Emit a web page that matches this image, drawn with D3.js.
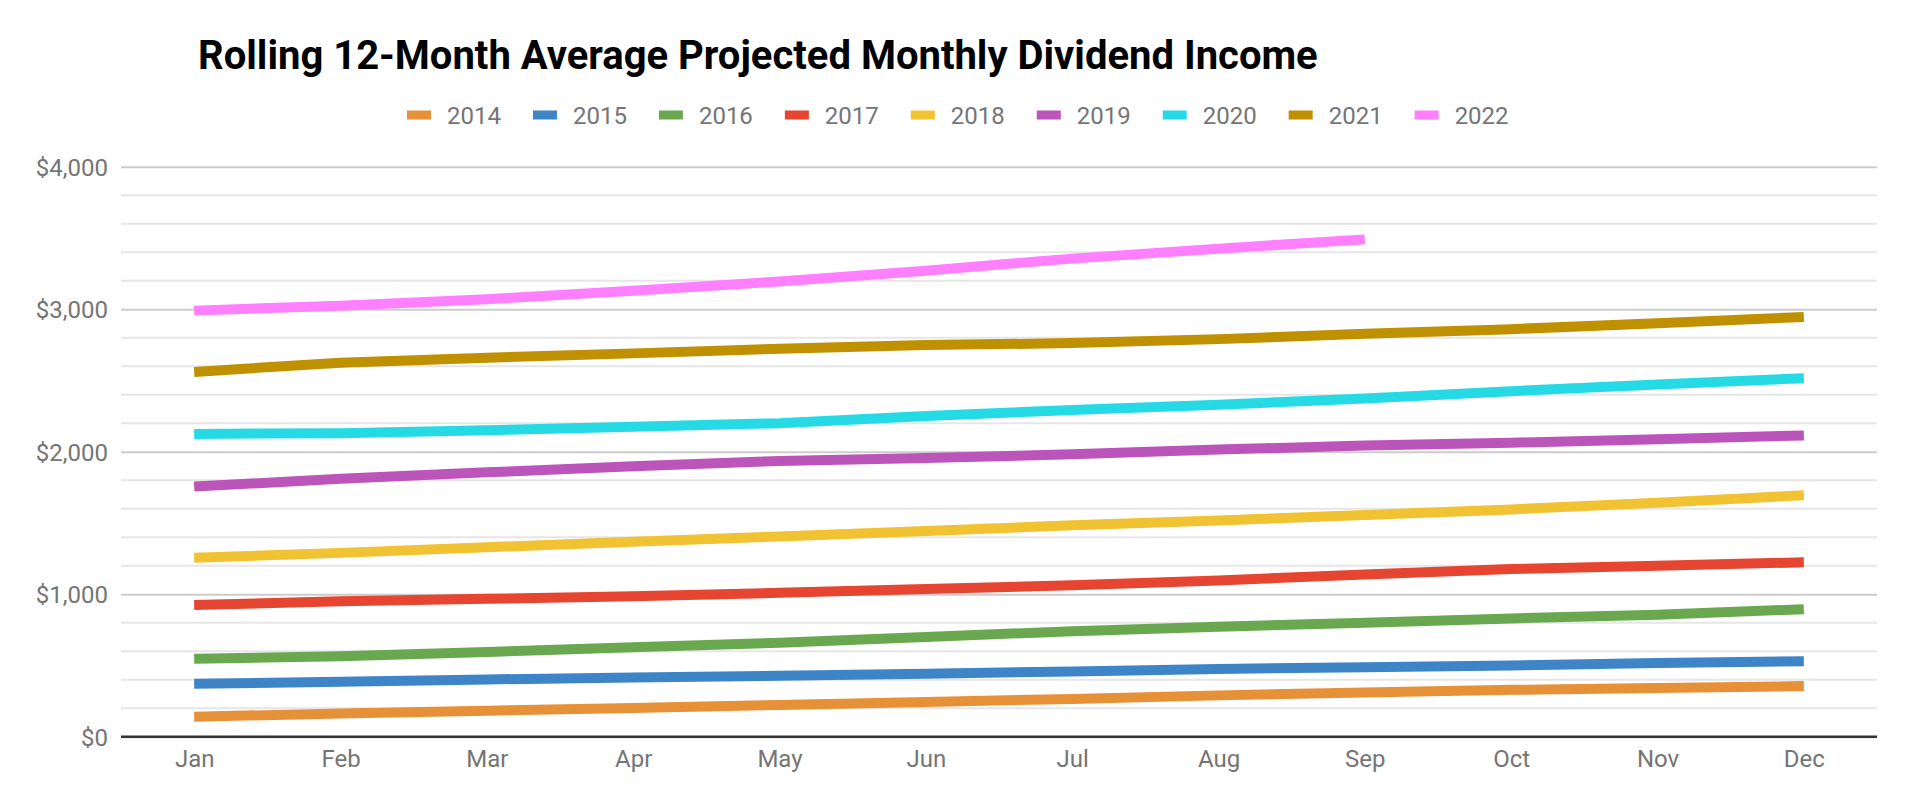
<!DOCTYPE html>
<html>
<head>
<meta charset="utf-8">
<script src="https://cdn.jsdelivr.net/npm/d3@7/dist/d3.min.js"></script>
<style>
  html, body { margin: 0; padding: 0; background: #fff; }
  svg { display: block; font-family: Roboto, "Noto Sans", Arial, sans-serif; }
</style>
</head>
<body>
<svg id="chart" width="1910" height="804"></svg>
<script>
// ---- Data ----
const months = ["Jan","Feb","Mar","Apr","May","Jun","Jul","Aug","Sep","Oct","Nov","Dec"];
const seriesNames = ["2014","2015","2016","2017","2018","2019","2020","2021","2022"];
const seriesColors = ["#e69138","#3d85c6","#6aa84f","#e64532","#f1c232","#bb55b9","#25dae5","#bf9000","#ff80ff"];
const yTicks = [0, 1000, 2000, 3000, 4000];

const v2014 = [140, 163, 182, 202, 223, 244, 265, 290, 311, 329, 342, 355];
const v2015 = [371, 385, 402, 415, 428, 441, 458, 475, 488, 500, 518, 530];
const v2016 = [547, 565, 595, 628, 660, 700, 740, 772, 800, 830, 856, 895];
const v2017 = [925, 950, 968, 985, 1010, 1036, 1063, 1097, 1138, 1176, 1200, 1224];
const v2018 = [1255, 1290, 1330, 1368, 1405, 1443, 1484, 1518, 1556, 1595, 1642, 1694];
const v2019 = [1755, 1810, 1855, 1898, 1935, 1955, 1982, 2015, 2043, 2063, 2088, 2114];
const v2020 = [2125, 2130, 2150, 2175, 2200, 2250, 2293, 2330, 2374, 2425, 2472, 2516];
const v2021 = [2560, 2625, 2660, 2690, 2722, 2748, 2762, 2790, 2828, 2860, 2902, 2945];
const v2022 = [2990, 3025, 3070, 3130, 3195, 3270, 3355, 3425, 3490];

const seriesValues = [v2014, v2015, v2016, v2017, v2018, v2019, v2020, v2021, v2022];

// ---- Layout ----
const svg = d3.select("#chart");
const plot = { left: 121, right: 1877, top: 166.7, bottom: 736.7 };

const x = d3.scalePoint().domain(months).range([plot.left, plot.right]).padding(0.5);
const y = d3.scaleLinear().domain([0, 4000]).range([plot.bottom, plot.top]);

// Title
svg.append("text")
  .attr("x", 198).attr("y", 69)
  .attr("font-size", 40).attr("font-weight", 700).attr("fill", "#000")
  .text("Rolling 12-Month Average Projected Monthly Dividend Income");

// Legend
const legend = svg.append("g").attr("transform", "translate(407,115)");
let lx = 0;
seriesNames.forEach((name, i) => {
  const g = legend.append("g").attr("transform", `translate(${lx},0)`);
  g.append("rect").attr("x", 0).attr("y", -4.5).attr("width", 24).attr("height", 9)
    .attr("fill", seriesColors[i]);
  const t = g.append("text").attr("x", 40).attr("y", 8.5)
    .attr("font-size", 24).attr("fill", "#757575").text(name);
  lx += 40 + t.node().getComputedTextLength() + 32;
});

// Minor gridlines
const minor = d3.range(0, 4001, 200).filter(v => v % 1000 !== 0);
svg.append("g").selectAll("line").data(minor).join("line")
  .attr("x1", plot.left).attr("x2", plot.right)
  .attr("y1", d => y(d)).attr("y2", d => y(d))
  .attr("stroke", "#e6e6e6").attr("stroke-width", 2);

// Major gridlines + y labels via axis
const yAxis = svg.append("g").attr("transform", `translate(${plot.left},0)`)
  .call(d3.axisLeft(y).tickValues(yTicks)
    .tickSize(-(plot.right - plot.left))
    .tickPadding(13)
    .tickFormat(d => "$" + d3.format(",")(d)));
yAxis.select(".domain").remove();
yAxis.selectAll(".tick line").attr("stroke", "#cccccc").attr("stroke-width", 2);
yAxis.selectAll(".tick text").attr("font-size", 24).attr("fill", "#757575")
  .attr("font-family", "Roboto, 'Noto Sans', Arial, sans-serif").attr("dy", "0.36em");

// X axis
const xAxis = svg.append("g").attr("transform", `translate(0,${plot.bottom})`)
  .call(d3.axisBottom(x).tickSize(0).tickPadding(12));
xAxis.select(".domain").remove();
xAxis.selectAll(".tick text").attr("font-size", 24).attr("fill", "#757575")
  .attr("font-family", "Roboto, 'Noto Sans', Arial, sans-serif").attr("dy", "0.75em");

// Baseline
svg.append("line")
  .attr("x1", plot.left).attr("x2", plot.right)
  .attr("y1", y(0)).attr("y2", y(0))
  .attr("stroke", "#333333").attr("stroke-width", 2.5);

// Lines
const line = d3.line().x((d, i) => x(months[i])).y(d => y(d));
svg.append("g").selectAll("path").data(seriesValues).join("path")
  .attr("d", d => line(d))
  .attr("fill", "none")
  .attr("stroke", (d, i) => seriesColors[i])
  .attr("stroke-width", 10)
  .attr("stroke-linejoin", "round")
  .attr("stroke-linecap", "butt");
</script>
</body>
</html>
